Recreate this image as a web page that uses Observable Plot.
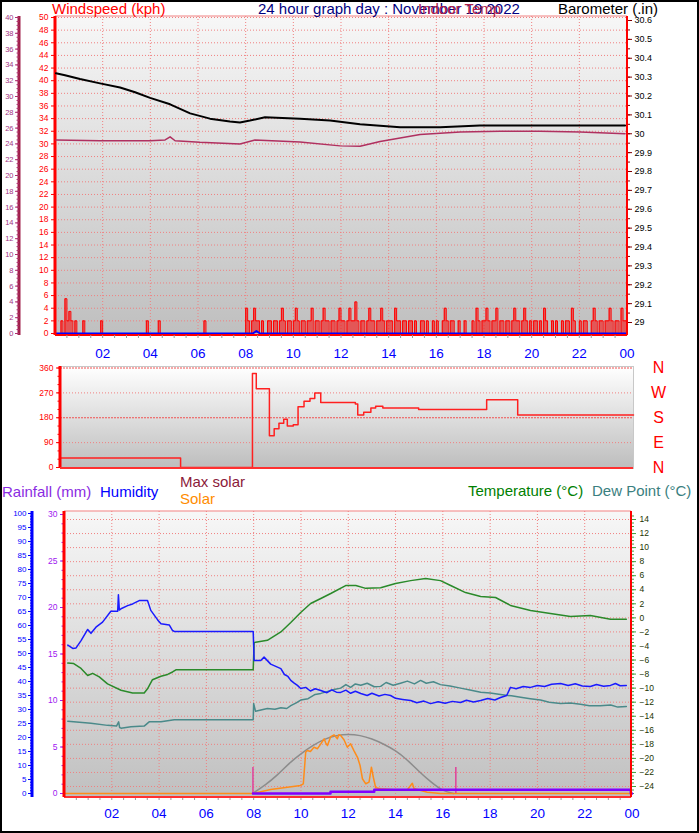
<!DOCTYPE html>
<html>
<head>
<meta charset="utf-8">
<script src="https://cdn.jsdelivr.net/npm/d3@7"></script>
<script src="https://cdn.jsdelivr.net/npm/@observablehq/plot@0.6"></script>
<style>
html,body{margin:0;padding:0;background:#fff;}
#root{position:relative;width:699px;height:833px;overflow:hidden;background:#fff;font-family:"Liberation Sans",Arial,sans-serif;}
#plots svg{position:absolute;left:0;top:0;background:transparent !important;overflow:visible;max-width:none;}
.t{position:absolute;white-space:nowrap;font-size:15px;line-height:15px;}
#border{position:absolute;left:0;top:0;width:699px;height:833px;box-sizing:border-box;border:2px solid #000;}
</style>
</head>
<body>
<div id="root">
<div id="plots"></div>
<div class="t" style="left:52px;top:1px;color:#ff0000">Windspeed (kph)</div>
<div class="t" style="left:258px;top:1px;color:#000080">24 hour graph day : November 19 2022</div>
<div class="t" style="left:418px;top:1px;color:#b0204a">Indoor Temp</div>
<div class="t" style="left:558px;top:1px;color:#000">Barometer (.in)</div>
<div class="t" style="left:2px;top:484px;color:#8a2be2">Rainfall (mm)</div>
<div class="t" style="left:100px;top:484px;color:#0000ff">Humidity</div>
<div class="t" style="left:180px;top:474px;color:#8b1a3a">Max solar</div>
<div class="t" style="left:180px;top:491px;color:#ff8c00">Solar</div>
<div class="t" style="left:468px;top:483px;color:#008000">Temperature (°C)</div>
<div class="t" style="left:592px;top:483px;color:#3a8080">Dew Point (°C)</div>
<div id="border"></div>
</div>
<script>
// ---------- DATA ----------
const hourTicks = [2,4,6,8,10,12,14,16,18,20,22,24];
const halfHours = d3.range(0.5, 24, 0.5);
const hourLabel = h => String(h % 24).padStart(2, "0");

// Panel 1: [hour, value]
const barometer = [[0.04,30.32],[0.42,30.31],[1.05,30.29],[1.89,30.267],[2.73,30.245],[3.36,30.22],[3.99,30.19],[4.83,30.156],[5.67,30.108],[6.5,30.08],[7.34,30.065],[7.76,30.06],[8.18,30.07],[8.81,30.087],[10.28,30.08],[11.54,30.07],[12.8,30.05],[14.48,30.034],[16.16,30.034],[17.83,30.044],[19.51,30.044],[21.19,30.044],[22.87,30.044],[23.92,30.044]];
const indoorTemp = [[0.04,24.5],[1.89,24.4],[3.99,24.4],[4.62,24.5],[4.83,24.9],[5.04,24.4],[6.08,24.2],[7.76,24.0],[8.39,24.5],[10.28,24.25],[11.96,23.75],[12.8,23.7],[13.64,24.3],[15.32,25.2],[17.0,25.5],[18.67,25.6],[20.35,25.6],[22.03,25.5],[23.92,25.3]];
const windSampleMinutes = 5;
const windSpeed = [
 0,0,0,2,0,5.5,2,3.5,2,0,2,0,
 0,0,2,0,0,0,0,0,0,0,0,2,
 0,0,0,0,0,0,0,0,0,0,0,0,
 0,0,0,0,0,0,0,0,0,0,2,0,
 0,0,0,0,2,0,0,0,0,0,0,0,
 0,0,0,0,0,0,0,0,0,0,0,0,
 0,0,0,2,0,0,0,0,0,0,0,0,
 0,0,0,0,0,0,0,0,0,0,0,0,
 4,2,0,2,4,2,2,0,2,0,0,2,
 2,0,2,2,0,2,4,2,0,2,2,0,
 2,4,2,0,2,2,0,2,2,4,0,2,
 2,0,2,4,2,2,0,2,2,0,2,4,
 2,2,0,2,4,2,2,5,2,0,2,2,
 0,2,4,2,2,0,2,2,4,2,0,2,
 2,2,0,4,2,2,0,2,2,0,2,2,
 0,2,0,0,2,2,0,2,0,0,2,0,
 2,0,0,2,4,2,0,2,2,0,0,2,
 0,0,2,0,0,0,2,0,4,2,0,2,
 2,4,2,0,2,2,4,0,2,2,0,2,
 2,0,2,4,2,2,0,2,4,2,0,2,
 0,2,2,0,2,0,4,2,0,0,2,0,
 2,0,0,2,0,2,2,0,4,2,0,0,
 2,0,2,2,0,0,2,4,2,0,2,2,
 0,2,2,4,2,0,2,2,0,4,2,2,
 2];
const windAvg = [[0,0],[8.3,0],[8.45,0.4],[8.6,0],[24,0]];

// Panel 2
const windDir = [[0,34],[5.03,0],[8.04,340],[8.2,285],[8.75,115],[8.95,140],[9.15,160],[9.35,175],[9.5,150],[9.75,155],[9.95,220],[10.2,240],[10.45,250],[10.65,270],[10.9,235],[12.35,230],[12.45,190],[12.7,200],[13.0,215],[13.2,222],[13.5,215],[15.0,210],[17.85,245],[19.15,190],[24,190]];
const dirLetters = ["N","W","S","E","N"];
const dirLetterDeg = [360,270,180,90,0];
const dirTicks = [0,90,180,270,360];

// Panel 3
const humidity = [[0.14,53],[0.35,51.8],[0.49,52],[0.70,54.6],[0.98,58.6],[1.12,57.2],[1.33,59.4],[1.61,61.2],[1.96,65.1],[2.25,65.1],[2.28,71],[2.32,65.5],[2.39,66],[2.67,67.1],[2.88,67.7],[3.16,68.9],[3.51,68.9],[3.65,65.4],[3.94,62],[4.08,60.6],[4.43,60.2],[4.57,58.2],[4.64,57.9],[7.98,57.9],[8.02,47.5],[8.30,47.5],[8.44,48.7],[8.72,46.2],[9.15,44.6],[9.3,42.5],[9.45,41.8],[9.57,40.4],[9.7,39.5],[9.85,38.6],[9.99,37.5],[10.2,37.9],[10.4,36.6],[10.6,37.4],[10.84,36.8],[11.1,36.0],[11.3,37.0],[11.5,36.2],[11.68,36.1],[11.9,36.9],[12.1,35.8],[12.3,36.5],[12.53,35.7],[12.8,35.0],[13.0,35.8],[13.3,34.8],[13.55,35.4],[13.79,35],[14.0,34.0],[14.3,33.6],[14.64,33.2],[14.9,32.4],[15.2,33.0],[15.48,32.1],[15.8,32.8],[16.1,32.2],[16.4,32.9],[16.75,32.5],[17.0,33.3],[17.3,32.7],[17.6,33.2],[17.9,33.9],[18.2,33.4],[18.44,34.3],[18.7,35.0],[18.86,37.9],[19.1,37.4],[19.4,38.2],[19.71,37.9],[20.0,38.6],[20.3,38.2],[20.6,39.0],[20.98,39.3],[21.3,38.6],[21.6,39.2],[21.9,38.4],[22.24,38.2],[22.5,38.9],[22.8,38.3],[23.09,38.6],[23.3,39.3],[23.5,38.5],[23.76,38.6]];
const temperature = [[0.14,-6.44],[0.39,-6.5],[0.70,-7.2],[0.98,-8.2],[1.19,-7.9],[1.47,-8.4],[1.82,-9.4],[2.39,-10.3],[2.88,-10.7],[3.37,-10.7],[3.51,-10.1],[3.72,-8.8],[4.08,-8.3],[4.36,-8.05],[4.57,-7.7],[4.71,-7.4],[7.98,-7.4],[8.02,-3.5],[8.58,-3.2],[9.15,-2.0],[9.57,-0.65],[9.99,0.77],[10.41,2.05],[10.84,2.76],[11.26,3.47],[11.89,4.6],[12.32,4.6],[12.74,4.2],[13.37,4.3],[14.0,4.9],[14.64,5.3],[15.27,5.6],[15.9,5.3],[16.33,4.6],[16.96,3.6],[17.6,3.05],[18.23,2.9],[18.86,1.77],[19.71,1.06],[20.55,0.63],[21.4,0.2],[22.24,0.34],[23.09,-0.2],[23.76,-0.2]];
const dewPoint = [[0.14,-14.7],[1.12,-15.0],[1.82,-15.3],[2.2,-15.4],[2.29,-14.8],[2.33,-15.6],[2.39,-15.7],[2.81,-15.5],[3.37,-15.4],[3.58,-14.8],[4.08,-14.8],[4.64,-14.5],[7.98,-14.5],[8.0,-12.2],[8.08,-13.3],[8.58,-12.9],[8.9,-13.0],[9.15,-12.8],[9.4,-12.9],[9.57,-12.5],[9.8,-12.1],[9.99,-11.7],[10.3,-11.5],[10.6,-10.9],[10.84,-10.75],[11.1,-10.5],[11.4,-10.2],[11.68,-10.0],[11.9,-9.5],[12.1,-9.9],[12.3,-9.4],[12.53,-9.6],[12.8,-9.3],[13.1,-9.8],[13.37,-9.75],[13.6,-9.2],[13.9,-9.6],[14.21,-9.3],[14.5,-9.0],[14.8,-9.4],[15.06,-8.9],[15.3,-9.3],[15.6,-9.1],[15.9,-9.5],[16.3,-9.7],[16.75,-10.0],[17.2,-10.3],[17.6,-10.6],[18.0,-10.7],[18.44,-10.9],[18.9,-11.1],[19.29,-11.3],[19.7,-11.5],[20.13,-11.7],[20.5,-12.0],[20.98,-12.2],[21.4,-12.1],[21.82,-12.3],[22.2,-12.5],[22.66,-12.5],[23.1,-12.4],[23.4,-12.7],[23.76,-12.6]];
const maxSolar = [[7.95,0],[8.5,48],[9,100],[9.5,160],[10,212],[10.5,256],[11,290],[11.5,309],[12,316],[12.5,310],[13,292],[13.5,264],[14,228],[14.5,178],[15,118],[15.5,62],[16,18],[16.45,0]];
const solar = [[0,0],[7.95,0],[8.72,21],[9.43,34],[9.99,43],[10.1,52],[10.2,221],[10.27,230],[10.4,225],[10.55,248],[10.7,240],[10.84,266],[10.98,293],[11.05,270],[11.12,257],[11.26,305],[11.4,314],[11.54,293],[11.6,315],[11.68,311],[11.82,288],[11.96,248],[12.1,266],[12.24,230],[12.39,194],[12.5,150],[12.6,79],[12.74,52],[12.88,61],[12.98,141],[13.06,87],[13.16,31],[13.37,25],[13.93,20],[14.5,20],[14.71,55],[14.78,27],[15.34,7],[15.9,0],[24,0]];
const rainfall = [[7.97,0],[11.25,0.2],[13.1,0.4],[23.95,0],[24,0]];
const sunTimes = [7.97, 16.55];

// ---------- HELPERS ----------
const W = 699, H = 833;
const GRID = "#f08080";
const plotsDiv = document.getElementById("plots");

function gradientDefs(id, c0, c1) {
  return () => {
    const defs = d3.create("svg:defs");
    const lg = defs.append("linearGradient").attr("id", id)
      .attr("x1", "0").attr("y1", "0").attr("x2", "0").attr("y2", "1");
    lg.append("stop").attr("offset", "0").attr("stop-color", c0);
    lg.append("stop").attr("offset", "1").attr("stop-color", c1);
    return defs.node();
  };
}
function edge(side, color, width) {
  return (index, scales, values, d) => {
    const l = d.marginLeft, r = d.width - d.marginRight, t = d.marginTop, b = d.height - d.marginBottom;
    const c = side === "left" ? [l, t, l, b] : side === "right" ? [r, t, r, b] : side === "top" ? [l, t, r, t] : [l, b, r, b];
    return d3.create("svg:line").attr("x1", c[0]).attr("y1", c[1]).attr("x2", c[2]).attr("y2", c[3])
      .attr("stroke", color).attr("stroke-width", width).node();
  };
}
function layer(o) {
  const svg = Plot.plot({
    width: W, height: H,
    marginLeft: o.ml, marginRight: o.mr, marginTop: o.mt, marginBottom: o.mb,
    x: {domain: [0, 24], range: o.xr, axis: null, label: null},
    y: {domain: o.yd, range: o.yr, axis: null, label: null},
    style: {background: "transparent", overflow: "visible", fontFamily: "'Liberation Sans', Arial, sans-serif"},
    marks: o.marks
  });
  plotsDiv.append(svg);
}
const px = d => d[0], py = d => d[1];
const windHour = (d, i) => i * windSampleMinutes / 60;

// ---------- PANEL 1 ----------
const p1 = {mt: 16, mb: H - 335, xr: [54.5, 626.5]};
layer({...p1, ml: 55, mr: W - 627, yd: [0, 50], yr: [333, 17], marks: [
  gradientDefs("g1", "#f7f7f7", "#bfbfbf"),
  Plot.frame({fill: "url(#g1)", stroke: null}),
  Plot.ruleY(d3.range(2, 51, 2), {stroke: GRID, strokeDasharray: "1,2"}),
  Plot.ruleX(d3.range(2, 24, 2), {stroke: GRID, strokeDasharray: "1,2"}),
  Plot.areaY(windSpeed, {x: windHour, y: d => d, fill: "#ff0000", fillOpacity: 0.55, curve: "step-after"}),
  Plot.lineY(windSpeed, {x: windHour, y: d => d, stroke: "#ff0000", strokeWidth: 1, curve: "step-after"}),
  Plot.line(windAvg, {x: px, y: py, stroke: "#0000ff", strokeWidth: 2}),
  edge("top", "#f08080", 1),
  edge("bottom", "#ff0000", 2),
  edge("left", "#ff0000", 3),
  edge("right", "#ff0000", 2),
  Plot.axisY({anchor: "left", ticks: d3.range(0, 51, 2), tickSize: 4, tickPadding: 3, stroke: "#ff0000", fill: "#ff0000", fontSize: 8.5, label: null}),
  Plot.axisX({anchor: "bottom", ticks: halfHours, tickSize: 3, tickFormat: () => "", stroke: "#999999", label: null}),
  Plot.axisX({anchor: "bottom", ticks: hourTicks, tickSize: 0, tickPadding: 13, tickFormat: hourLabel, fill: "#0000ff", fontSize: 13.5, label: null})
]});
layer({...p1, ml: 19, mr: W - 627, yd: [0, 40], yr: [333, 17], marks: [
  edge("left", "#a0204a", 3),
  Plot.axisY({anchor: "left", ticks: d3.range(0, 40.01, 0.5), tickSize: 2.5, tickFormat: () => "", stroke: "#b03070", label: null}),
  Plot.axisY({anchor: "left", ticks: d3.range(0, 41, 2), tickSize: 4, tickPadding: 2, stroke: "#b03070", fill: "#a03080", fontSize: 7.5, label: null}),
  Plot.line(indoorTemp, {x: px, y: py, stroke: "#b03060", strokeWidth: 1.5})
]});
layer({...p1, ml: 55, mr: W - 627, yd: [29, 30.6], yr: [322, 20], marks: [
  Plot.axisY({anchor: "right", ticks: d3.range(580, 613, 1).map(d => d / 20), tickSize: 2, tickFormat: () => "", stroke: "#800000", label: null}),
  Plot.axisY({anchor: "right", ticks: d3.range(290, 307, 1).map(d => d / 10), tickSize: 4, tickPadding: 3, tickFormat: d => String(+d.toFixed(1)), stroke: "#800000", fill: "#000", fontSize: 9, label: null}),
  Plot.line(barometer, {x: px, y: py, stroke: "#000", strokeWidth: 2})
]});

// ---------- PANEL 2 ----------
layer({ml: 60, mr: W - 633, mt: 366, mb: H - 468, xr: [60, 633], yd: [0, 360], yr: [467, 367.5], marks: [
  gradientDefs("g2", "#ffffff", "#bdbdbd"),
  Plot.frame({fill: "url(#g2)", stroke: "#c8c8c8"}),
  Plot.ruleY([90, 270], {stroke: GRID, strokeDasharray: "1,2"}),
  Plot.ruleY([180, 360], {stroke: "#f05050", strokeDasharray: "2,1"}),
  Plot.line(windDir, {x: px, y: py, stroke: "#ff2020", strokeWidth: 1.5, curve: "step-after"}),
  edge("left", "#ff0000", 3),
  edge("bottom", "#ff3030", 2),
  Plot.axisY({anchor: "left", ticks: d3.range(0, 361, 30), tickSize: 2.5, tickFormat: () => "", stroke: "#ff0000", label: null}),
  Plot.axisY({anchor: "left", ticks: dirTicks, tickSize: 4, tickPadding: 3, stroke: "#ff0000", fill: "#ff0000", fontSize: 8.5, label: null}),
  Plot.text(dirLetterDeg, {x: 24, y: d => d, text: (d, i) => dirLetters[i], dx: 25, fill: "#ff0000", fontSize: 16})
]});

// ---------- PANEL 3 ----------
const p3 = {mt: 511, mb: H - 797, xr: [64, 631.5]};
layer({...p3, ml: 64, mr: W - 631, yd: [0, 30], yr: [793, 514], marks: [
  gradientDefs("g3", "#f7f7f7", "#c0c0c0"),
  Plot.frame({fill: "url(#g3)", stroke: null}),
  Plot.ruleX(d3.range(2, 24, 2), {stroke: GRID, strokeDasharray: "1,2"}),
  edge("top", "#f08080", 1),
  Plot.axisY({anchor: "left", ticks: d3.range(0, 31, 1), tickSize: 2.5, tickFormat: () => "", stroke: "#a020f0", label: null}),
  Plot.axisY({anchor: "left", ticks: d3.range(0, 31, 5), tickSize: 4, tickPadding: 3, stroke: "#a020f0", fill: "#a020f0", fontSize: 8.5, label: null}),
  Plot.axisX({anchor: "bottom", ticks: halfHours, tickSize: 3, tickFormat: () => "", stroke: "#999999", label: null}),
  Plot.axisX({anchor: "bottom", ticks: hourTicks, tickSize: 0, tickPadding: 11, tickFormat: hourLabel, fill: "#0000ff", fontSize: 13.5, label: null})
]});
layer({...p3, ml: 64, mr: W - 631, yd: [-24, 14], yr: [786, 519], marks: [
  Plot.ruleY(d3.range(-24, 15, 2), {stroke: GRID, strokeDasharray: "1,2"}),
  Plot.axisY({anchor: "right", ticks: d3.range(-25, 15, 0.5), tickSize: 2, tickFormat: () => "", stroke: "#40a040", label: null}),
  Plot.axisY({anchor: "right", ticks: d3.range(-24, 15, 2), tickSize: 4, tickPadding: 4, stroke: "#40a040", fill: "#223300", fontSize: 8.5, label: null}),
  Plot.line(dewPoint, {x: px, y: py, stroke: "#4a8a8a", strokeWidth: 1.5}),
  Plot.line(temperature, {x: px, y: py, stroke: "#2a8a2a", strokeWidth: 1.5})
]});
layer({...p3, ml: 32, mr: W - 631, yd: [0, 100], yr: [793, 513], marks: [
  edge("left", "#0000ff", 3),
  Plot.axisY({anchor: "left", ticks: d3.range(0, 101, 1), tickSize: 2, tickFormat: () => "", stroke: "#0000ff", label: null}),
  Plot.axisY({anchor: "left", ticks: d3.range(0, 101, 5), tickSize: 4, tickPadding: 2, stroke: "#0000ff", fill: "#0000ff", fontSize: 8, label: null}),
  Plot.line(humidity, {x: px, y: py, stroke: "#1a1aff", strokeWidth: 1.5})
]});
layer({...p3, ml: 64, mr: W - 631, yd: [0, 1500], yr: [793, 513], marks: [
  Plot.line(maxSolar, {x: px, y: py, stroke: "#8c8c8c", strokeWidth: 1.5, curve: "natural"}),
  Plot.line(solar, {x: px, y: py, stroke: "#ff8c1a", strokeWidth: 1.5})
]});
layer({...p3, ml: 64, mr: W - 631, yd: [0, 30], yr: [793, 514], marks: [
  Plot.ruleX(sunTimes, {y1: 0, y2: 2.8, stroke: "#e0409a", strokeWidth: 1.5}),
  Plot.line(rainfall, {x: px, y: py, stroke: "#8000ff", strokeWidth: 2.5, curve: "step-after"}),
  edge("bottom", "#ff3030", 2),
  edge("left", "#ff0000", 3),
  edge("right", "#ff0000", 2)
]});
</script>
</body>
</html>
